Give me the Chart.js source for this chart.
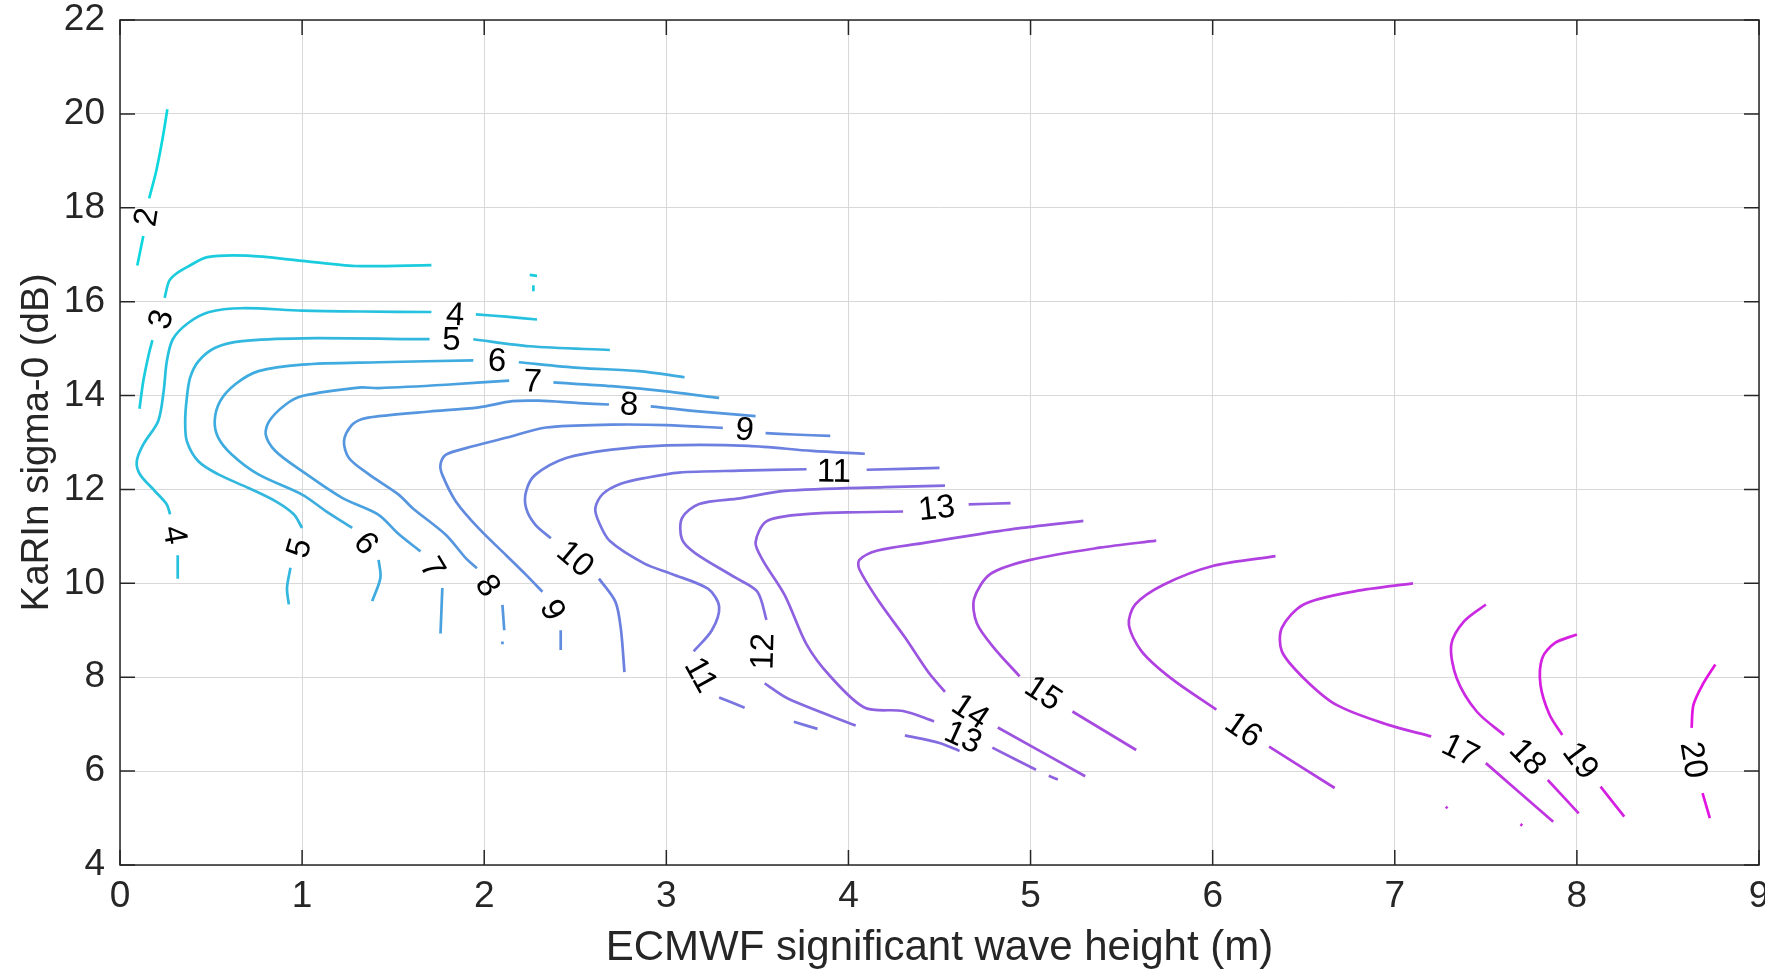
<!DOCTYPE html>
<html lang="en">
  <head>
    <meta charset="UTF-8" />
    <title>KaRIn sigma-0 vs ECMWF wave height</title>
    <script src="https://cdn.jsdelivr.net/npm/chart.js@4.4.1/dist/chart.umd.min.js"></script>
    <style>
      html,
      body {
        margin: 0;
        padding: 0;
        background: #fff;
      }
      .chart-container {
        width: 1765px;
        height: 969px;
      }
    </style>
  </head>
  <body>
    <div class="chart-container">
      <canvas id="myChart" width="1765" height="969"></canvas>
    </div>

    <script>
      // contour levels, one polyline per level ([x, y] pairs, null = gap for a label)
      const levels = [2, 3, 4, 5, 6, 7, 8, 9, 10, 11, 12, 13, 14, 15, 16, 17, 18, 19, 20];

      const c2 = [[0.26, 20.1], [0.235, 19.5], [0.2, 18.8], [0.16, 18.2], null, [0.128, 17.4], [0.095, 16.77]];
      const c3 = [[0.107, 13.72], [0.128, 14.31], [0.158, 14.88], [0.178, 15.18], null, [0.245, 16.08], [0.27, 16.44],
        [0.31, 16.6], [0.37, 16.74], [0.48, 16.95], [0.7, 16.98], [1.0, 16.87], [1.29, 16.76], [1.71, 16.78], null,
        [2.25, 16.57], [2.29, 16.55], null, [2.27, 16.35], [2.27, 16.22]];
      const c4 = [[2.29, 15.62], [2.12, 15.68], [1.954, 15.73], null, [1.71, 15.78], [1.33, 15.79], [1.0, 15.81],
        [0.67, 15.86], [0.49, 15.78], [0.376, 15.55], [0.29, 15.2], [0.257, 14.73], [0.24, 14.1], [0.21, 13.46],
        [0.128, 12.96], [0.092, 12.6], [0.11, 12.32], [0.193, 11.96], [0.257, 11.68], [0.275, 11.47], null,
        [0.317, 10.6], [0.317, 10.1]];
      const c5 = [[2.69, 14.97], [2.25, 15.05], [1.94, 15.2], null, [1.7, 15.2], [1.0, 15.22], [0.67, 15.16],
        [0.523, 15.02], [0.43, 14.73], [0.385, 14.38], [0.367, 13.95], [0.358, 13.46], [0.367, 13.03], [0.43, 12.6],
        [0.54, 12.32], [0.706, 12.03], [0.853, 11.75], [0.954, 11.47], [1.0, 11.18], null, [0.936, 10.33],
        [0.917, 9.9], [0.927, 9.55]];
      const c6 = [[3.1, 14.39], [2.85, 14.52], [2.52, 14.59], [2.19, 14.71], null, [1.94, 14.75], [1.42, 14.71],
        [1.0, 14.66], [0.76, 14.52], [0.633, 14.24], [0.55, 13.88], [0.52, 13.46], [0.54, 13.1], [0.615, 12.74],
        [0.76, 12.32], [1.0, 11.89], [1.13, 11.54], [1.275, 11.18], null, [1.42, 10.5], [1.43, 10.12], [1.385, 9.62]];
      const c7 = [[3.29, 13.95], [3.0, 14.09], [2.7, 14.2], [2.38, 14.28], null, [2.137, 14.32], [1.79, 14.23],
        [1.42, 14.16], [1.31, 14.17], [1.0, 13.99], [0.91, 13.81], [0.82, 13.46], [0.8, 13.17], [0.853, 12.82],
        [1.0, 12.39], [1.22, 11.82], [1.42, 11.46], [1.53, 11.05], [1.65, 10.68], null, [1.77, 9.9], [1.76, 8.93]];
      const c8 = [[3.49, 13.56], [3.16, 13.67], [2.914, 13.77], null, [2.685, 13.81], [2.52, 13.84], [2.3, 13.89],
        [2.155, 13.88], [1.97, 13.75], [1.7, 13.66], [1.42, 13.56], [1.33, 13.5], [1.27, 13.36], [1.23, 13.03],
        [1.257, 12.67], [1.367, 12.32], [1.53, 11.89], [1.607, 11.6], [1.79, 11.03], [1.9, 10.53], [1.96, 10.32],
        null, [2.1, 9.54], [2.11, 9.0], null, [2.1, 8.76], [2.1, 8.7]];
      const c9 = [[3.9, 13.14], [3.7, 13.17], [3.545, 13.2], null, [3.31, 13.31], [3.0, 13.37], [2.7, 13.38],
        [2.34, 13.32], [2.12, 13.1], [1.9, 12.88], [1.79, 12.74], [1.76, 12.53], [1.77, 12.31], [1.845, 11.74],
        [1.97, 11.17], [2.12, 10.6], [2.23, 10.18], [2.32, 9.82], null, [2.42, 9.0], [2.42, 8.58]];
      const c10 = [[4.09, 12.76], [3.8, 12.82], [3.45, 12.93], [3.0, 12.94], [2.7, 12.85], [2.45, 12.67],
        [2.28, 12.31], [2.23, 11.96], [2.23, 11.6], [2.28, 11.25], [2.366, 10.96], null, [2.63, 10.1],
        [2.72, 9.61], [2.75, 9.04], [2.77, 8.11]];
      const c11 = [[4.5, 12.46], [4.1, 12.42], null, [3.77, 12.43], [3.405, 12.4], [3.07, 12.36], [2.89, 12.25],
        [2.75, 12.12], [2.65, 11.9], [2.61, 11.6], [2.63, 11.3], [2.69, 10.9], [2.88, 10.42], [3.03, 10.2],
        [3.23, 9.88], [3.29, 9.5], [3.25, 9.0], [3.15, 8.55], null, [3.29, 7.57], [3.43, 7.35], null,
        [3.7, 7.05], [3.83, 6.9]];
      const c12 = [[4.53, 12.08], [4.2, 12.05], [3.65, 11.97], [3.405, 11.81], [3.18, 11.69], [3.086, 11.39],
        [3.086, 10.94], [3.16, 10.64], [3.38, 10.12], [3.5, 9.82], [3.55, 9.22], null, [3.54, 7.87], [3.67, 7.54],
        [4.04, 6.97], null, [4.31, 6.76], [4.5, 6.6], [4.61, 6.43]];
      const c13 = [[4.89, 11.71], [4.66, 11.68], null, [4.3, 11.53], [3.99, 11.51], [3.75, 11.47], [3.55, 11.32],
        [3.49, 10.87], [3.53, 10.49], [3.65, 9.75], [3.77, 8.7], [3.9, 8.02], [4.09, 7.35], [4.3, 7.28],
        [4.47, 7.06], null, [4.79, 6.5], [5.03, 6.03], null, [5.1, 5.9], [5.15, 5.82]];
      const c14 = [[5.29, 11.33], [4.95, 11.18], [4.72, 11.05], [4.4, 10.85], [4.16, 10.7], [4.06, 10.5],
        [4.06, 10.3], [4.17, 9.6], [4.31, 8.85], [4.44, 8.1], [4.53, 7.69], null, [4.82, 6.93], [5.3, 5.89]];
      const c15 = [[5.69, 10.91], [5.38, 10.76], [5.0, 10.5], [4.78, 10.2], [4.69, 9.67], [4.705, 9.15],
        [4.8, 8.62], [4.94, 8.02], null, [5.23, 7.27], [5.58, 6.45]];
      const c16 = [[6.345, 10.58], [6.0, 10.37], [5.73, 9.97], [5.575, 9.55], [5.54, 9.12], [5.61, 8.55],
        [5.77, 7.98], [6.02, 7.31], null, [6.31, 6.52], [6.67, 5.64]];
      const c17 = [[7.1, 10.0], [6.78, 9.83], [6.5, 9.55], [6.38, 9.05], [6.38, 8.55], [6.5, 7.98], [6.68, 7.41],
        [6.96, 6.99], [7.2, 6.74], null, [7.5, 6.17], [7.87, 4.92], null, [7.28, 5.24], [7.29, 5.21]];
      const c18 = [[7.5, 9.55], [7.38, 9.19], [7.31, 8.69], [7.34, 7.98], [7.45, 7.27], [7.6, 6.77], null,
        [7.84, 5.81], [8.01, 5.1], null, [7.69, 4.87], [7.7, 4.84]];
      const c19 = [[8.0, 8.91], [7.88, 8.73], [7.81, 8.41], [7.8, 7.84], [7.85, 7.2], [7.92, 6.77], null,
        [8.13, 5.67], [8.26, 5.03]];
      const c20 = [[8.76, 8.27], [8.69, 7.84], [8.64, 7.41], [8.63, 6.92], null, [8.69, 5.53], [8.73, 5.0]];

      // inline contour labels
      const labelLevel = [2, 3, 4, 4, 5, 5, 6, 6, 7, 7, 8, 8, 9, 9, 10, 11, 11, 12, 13, 13, 14, 15, 16, 17, 18, 19, 20];
      const labelX = [0.145, 0.225, 1.84, 0.3, 1.82, 0.985, 2.07, 1.35, 2.265, 1.715, 2.795, 2.02, 3.43, 2.375,
        2.5, 3.92, 3.19, 3.53, 4.485, 4.63, 4.67, 5.07, 6.17, 7.36, 7.73, 8.02, 8.64];
      const labelY = [17.8, 15.62, 15.72, 11.03, 15.19, 10.75, 14.74, 10.85, 14.3, 10.33, 13.81, 9.95, 13.27, 9.43,
        10.52, 12.38, 8.05, 8.55, 11.6, 6.72, 7.27, 7.66, 6.88, 6.44, 6.3, 6.22, 6.24];

      const xTicks = [0, 1, 2, 3, 4, 5, 6, 7, 8, 9];
      const yTicks = [4, 6, 8, 10, 12, 14, 16, 18, 20, 22];

      const contours = [c2, c3, c4, c5, c6, c7, c8, c9, c10, c11, c12, c13, c14, c15, c16, c17, c18, c19, c20];

      // cool-style colormap, cyan -> magenta
      function levelColor(lv) {
        const t = (lv - 2) / 18;
        const r = Math.round(15 + t * 210);
        const g = Math.round(215 - t * 195);
        const b = Math.round(222 + t * 3);
        return "rgb(" + r + "," + g + "," + b + ")";
      }

      const datasets = contours.map((pts, i) => ({
        label: String(levels[i]),
        data: pts.map((p) => (p ? { x: p[0], y: p[1] } : { x: null, y: null })),
        showLine: true,
        borderColor: levelColor(levels[i]),
        backgroundColor: levelColor(levels[i]),
        borderWidth: 2.7,
        pointRadius: 0,
        pointHoverRadius: 0,
        tension: 0.3,
        spanGaps: false,
      }));

      const axisColor = "#262626";

      const boxPlugin = {
        id: "boxAndLabels",
        afterDatasetsDraw(chart) {
          const { ctx, chartArea: a, scales } = chart;
          const xs = scales.x;
          const ys = scales.y;
          const tick = 15;

          // axes box with inward ticks (top/right too)
          ctx.save();
          ctx.strokeStyle = axisColor;
          ctx.lineWidth = 1.5;
          ctx.strokeRect(a.left, a.top, a.right - a.left, a.bottom - a.top);
          ctx.beginPath();
          xTicks.forEach((v) => {
            const px = xs.getPixelForValue(v);
            ctx.moveTo(px, a.bottom);
            ctx.lineTo(px, a.bottom - tick);
            ctx.moveTo(px, a.top);
            ctx.lineTo(px, a.top + tick);
          });
          yTicks.forEach((v) => {
            const py = ys.getPixelForValue(v);
            ctx.moveTo(a.left, py);
            ctx.lineTo(a.left + tick, py);
            ctx.moveTo(a.right, py);
            ctx.lineTo(a.right - tick, py);
          });
          ctx.stroke();

          // contour labels, rotated along their line
          ctx.fillStyle = "#000";
          ctx.font = '33px "Liberation Sans", Arial, sans-serif';
          ctx.textAlign = "center";
          ctx.textBaseline = "middle";
          labelLevel.forEach((lv, i) => {
            const px = xs.getPixelForValue(labelX[i]);
            const py = ys.getPixelForValue(labelY[i]);
            const pts = contours[levels.indexOf(lv)]
              .filter((p) => p)
              .map((p) => ({ x: xs.getPixelForValue(p[0]), y: ys.getPixelForValue(p[1]) }));
            let best = null,
              bd = Infinity;
            pts.forEach((p) => {
              const d = Math.hypot(p.x - px, p.y - py);
              if (d < bd) {
                bd = d;
                best = p;
              }
            });
            let other = null,
              od = Infinity;
            pts.forEach((p) => {
              const dot = (p.x - px) * (best.x - px) + (p.y - py) * (best.y - py);
              const d = Math.hypot(p.x - px, p.y - py);
              if (dot < 0 && d < od) {
                od = d;
                other = p;
              }
            });
            let ang = other ? Math.atan2(other.y - best.y, other.x - best.x) : 0;
            if (ang > Math.PI / 2) ang -= Math.PI;
            if (ang < -Math.PI / 2) ang += Math.PI;
            ctx.save();
            ctx.translate(px, py);
            ctx.rotate(ang);
            ctx.fillText(String(lv), 0, 1);
            ctx.restore();
          });
          ctx.restore();
        },
      };

      Chart.defaults.font.family = '"Liberation Sans", Arial, Helvetica, sans-serif';
      Chart.defaults.color = axisColor;

      const ctx = document.getElementById("myChart").getContext("2d");
      const myChart = new Chart(ctx, {
        type: "scatter",
        data: { datasets },
        options: {
          responsive: false,
          animation: false,
          devicePixelRatio: 1,
          layout: { padding: { top: 20, right: 6, left: 0, bottom: 0 } },
          plugins: {
            legend: { display: false },
            tooltip: { enabled: false },
          },
          scales: {
            x: {
              type: "linear",
              min: 0,
              max: 9,
              afterFit: (s) => {
                s.height = 104;
                s.paddingLeft = 0;
                s.paddingRight = 0;
              },
              ticks: {
                stepSize: 1,
                color: axisColor,
                font: { size: 37 },
                padding: 10,
                maxRotation: 0,
              },
              grid: { color: "#d8d8d8", lineWidth: 1, drawTicks: false },
              border: { display: false },
              title: {
                display: true,
                text: "ECMWF significant wave height (m)",
                color: axisColor,
                font: { size: 42, lineHeight: 1 },
                padding: { top: 0, bottom: 0 },
              },
            },
            y: {
              type: "linear",
              min: 4,
              max: 22,
              afterFit: (s) => {
                s.width = 120;
                s.paddingTop = 0;
                s.paddingBottom = 0;
              },
              ticks: {
                stepSize: 2,
                color: axisColor,
                font: { size: 37 },
                padding: 15,
              },
              grid: { color: "#d8d8d8", lineWidth: 1, drawTicks: false },
              border: { display: false },
              title: {
                display: true,
                text: "KaRIn sigma-0 (dB)",
                color: axisColor,
                font: { size: 38.5, lineHeight: 1 },
                padding: { top: 18, bottom: 0 },
              },
            },
          },
        },
        plugins: [boxPlugin],
      });
    </script>
  </body>
</html>
